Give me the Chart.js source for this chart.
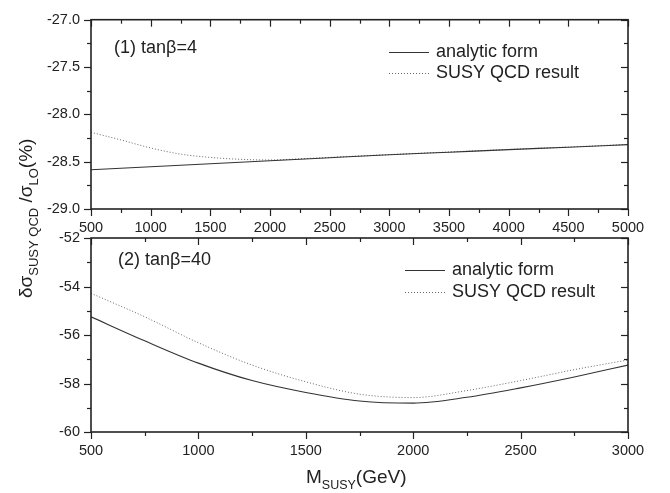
<!DOCTYPE html>
<html>
<head>
<meta charset="utf-8">
<script src="https://cdn.jsdelivr.net/npm/chart.js@4.4.1/dist/chart.umd.min.js"></script>
<style>
  html, body { margin: 0; padding: 0; background: #fff; }
  #wrap { position: relative; width: 670px; height: 493px; }
  #wrap canvas { position: absolute; left: 0; top: 0; }
</style>
</head>
<body>
<div id="wrap">
  <canvas id="upper" width="670" height="493"></canvas>
  <canvas id="lower" width="670" height="493"></canvas>
</div>
<script>
// Panel (1): tan(beta) = 4
const massUpper = [500, 1000, 1500, 2000, 2500, 3000, 3500, 4000, 4500, 5000];
const analyticUpper = [-28.586, -28.554, -28.522, -28.49, -28.458, -28.427, -28.40, -28.373, -28.347, -28.32];
const massUpperQcd = [500, 750, 1000, 1250, 1500, 1750, 2000, 2250, 2500, 3000, 3500, 4000, 4500, 5000];
const qcdUpper = [-28.19, -28.27, -28.355, -28.42, -28.455, -28.475, -28.482, -28.47, -28.455, -28.425, -28.398, -28.371, -28.345, -28.318];

// Panel (2): tan(beta) = 40
const massLower = [500, 750, 1000, 1250, 1500, 1750, 2000, 2250, 2500, 2750, 3000];
const analyticLower = [-55.25, -56.24, -57.16, -57.88, -58.37, -58.72, -58.81, -58.57, -58.18, -57.73, -57.24];
const qcdLower = [-54.28, -55.25, -56.32, -57.24, -57.93, -58.44, -58.58, -58.29, -57.88, -57.43, -57.03];

const seriesNames = ['analytic form', 'SUSY QCD result'];
const panelNotes = ['(1) tan\u03B2=4', '(2) tan\u03B2=40'];

const FONT = '"Liberation Sans", Arial, Helvetica, sans-serif';
const INK = '#222';

const toPoints = (xs, ys) => xs.map((x, i) => ({ x, y: ys[i] }));

// Draws a run of text pieces (with sub-scripts) along one baseline.
function drawRich(ctx, parts, x, y) {
  let cx = x;
  parts.forEach(p => {
    ctx.font = `${p.size}px ${FONT}`;
    ctx.fillText(p.text, cx, y + (p.dy || 0));
    cx += ctx.measureText(p.text).width;
  });
  return cx - x;
}

// Frame, Origin-style ticks (out on left/bottom, in on top/right), note and legend.
const panelDecor = {
  id: 'panelDecor',
  afterDraw(chart, args, opts) {
    const { ctx, chartArea: a, scales: { x, y } } = chart;
    ctx.save();
    ctx.strokeStyle = INK;
    ctx.lineWidth = 1.2;
    const seg = (x1, y1, x2, y2) => { ctx.beginPath(); ctx.moveTo(x1, y1); ctx.lineTo(x2, y2); ctx.stroke(); };
    x.ticks.forEach(t => {
      const px = Math.round(x.getPixelForValue(t.value)) + 0.5;
      const len = t.label !== '' ? 7 : 4;
      seg(px, a.bottom, px, a.bottom + len);
      seg(px, a.top, px, a.top + len);
    });
    y.ticks.forEach(t => {
      const py = Math.round(y.getPixelForValue(t.value)) + 0.5;
      const len = t.label !== '' ? 7 : 4;
      seg(a.left - len, py, a.left, py);
      seg(a.right - len, py, a.right, py);
    });
    ctx.lineWidth = 1.6;
    ctx.strokeRect(a.left, a.top, a.right - a.left, a.bottom - a.top);

    // panel note
    ctx.fillStyle = INK;
    ctx.textBaseline = 'middle';
    ctx.textAlign = 'left';
    ctx.font = `18px ${FONT}`;
    ctx.fillText(opts.note, a.left + opts.noteAt[0], a.top + opts.noteAt[1]);

    // legend built from the datasets
    chart.data.datasets.forEach((ds, i) => {
      const ly = Math.round(a.top + opts.legendAt[1] + i * opts.rowGap) + 0.5;
      const lx = a.left + opts.legendAt[0];
      ctx.strokeStyle = ds.borderColor;
      ctx.lineWidth = ds.borderWidth;
      ctx.setLineDash(ds.borderDash || []);
      seg(lx, ly, lx + 40, ly);
      ctx.setLineDash([]);
      ctx.fillStyle = INK;
      ctx.font = `18px ${FONT}`;
      ctx.fillText(ds.label, lx + 47, ly);
    });

    // axis titles (drawn once, on the lower panel)
    if (opts.titles) {
      ctx.fillStyle = INK;
      ctx.textBaseline = 'alphabetic';
      drawRich(ctx, [
        { text: 'M', size: 19 },
        { text: 'SUSY', size: 12.5, dy: 6 },
        { text: '(GeV)', size: 19 }
      ], 306, 483);
      ctx.translate(32, 298);
      ctx.rotate(-Math.PI / 2);
      drawRich(ctx, [
        { text: '\u03B4\u03C3', size: 19 },
        { text: 'SUSY QCD', size: 13, dy: 6 },
        { text: ' /\u03C3', size: 19 },
        { text: 'LO', size: 13, dy: 6 },
        { text: '(%)', size: 19 }
      ], 0, 0);
    }
    ctx.restore();
  }
};

function makeChart(id, datasets, xr, yr, fmtX, fmtY, pad, decor) {
  return new Chart(document.getElementById(id), {
    type: 'line',
    data: { datasets },
    options: {
      responsive: false,
      animation: false,
      devicePixelRatio: 1,
      layout: { padding: pad },
      plugins: { legend: { display: false }, tooltip: { enabled: false }, panelDecor: decor },
      elements: { point: { radius: 0 }, line: { cubicInterpolationMode: 'monotone' } },
      scales: {
        x: {
          type: 'linear', min: xr[0], max: xr[1],
          grid: { display: false, drawTicks: false }, border: { display: false },
          ticks: { stepSize: xr[2], autoSkip: false, maxRotation: 0, padding: 10, color: INK,
                   font: { family: FONT, size: 14.5 }, callback: fmtX },
          afterFit(s) { s.height = 30; }
        },
        y: {
          type: 'linear', min: yr[0], max: yr[1],
          grid: { display: false, drawTicks: false }, border: { display: false },
          ticks: { stepSize: yr[2], autoSkip: false, padding: 11, color: INK,
                   font: { family: FONT, size: 14.5 }, callback: fmtY },
          afterFit(s) { s.width = 60; }
        }
      }
    },
    plugins: [panelDecor]
  });
}

const solidStyle = { borderColor: '#333', borderWidth: 1.1, fill: false };
const dottedStyle = { borderColor: '#666', borderWidth: 1, borderDash: [1, 2], fill: false };

makeChart('upper', [
  { label: seriesNames[0], data: toPoints(massUpper, analyticUpper), ...solidStyle },
  { label: seriesNames[1], data: toPoints(massUpperQcd, qcdUpper), ...dottedStyle }
], [500, 5000, 250], [-29, -27, 0.25],
  v => (v % 500 === 0 ? String(v) : ''),
  v => (Math.abs(v * 2 - Math.round(v * 2)) < 1e-6 ? v.toFixed(1) : ''),
  { left: 31, right: 42, top: 15, bottom: 254 },
  { note: panelNotes[0], noteAt: [23, 28], legendAt: [298, 32], rowGap: 21 });

makeChart('lower', [
  { label: seriesNames[0], data: toPoints(massLower, analyticLower), ...solidStyle },
  { label: seriesNames[1], data: toPoints(massLower, qcdLower), ...dottedStyle }
], [500, 3000, 250], [-60, -52, 1],
  v => (v % 500 === 0 ? String(v) : ''),
  v => (v % 2 === 0 ? String(v) : ''),
  { left: 31, right: 42, top: 238, bottom: 31 },
  { note: panelNotes[1], noteAt: [27, 22], legendAt: [314, 32], rowGap: 22, titles: true });
</script>
</body>
</html>
